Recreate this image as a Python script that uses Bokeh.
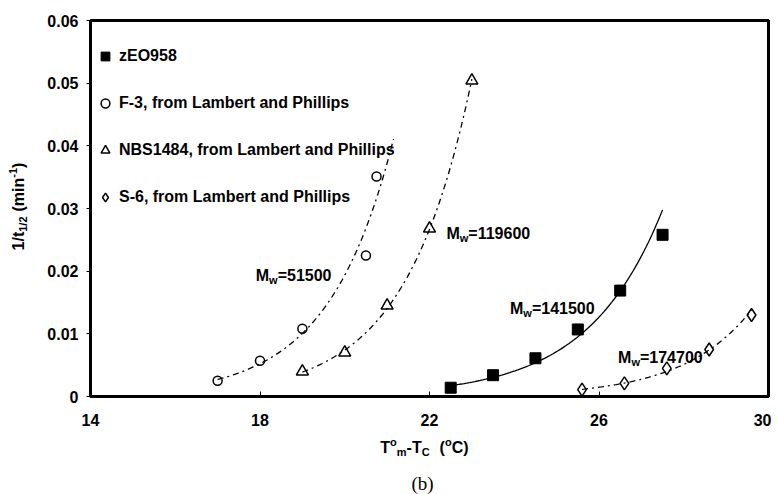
import numpy as np
from bokeh.plotting import figure
from bokeh.layouts import row, column
from bokeh.models import Range1d, FixedTicker, Label, Legend, LegendItem
from bokeh.embed import file_html
from bokeh.resources import INLINE

# ---------------- data ----------------
zeo_x = [22.5, 23.5, 24.5, 25.5, 26.5, 27.5]
zeo_y = [0.0014, 0.0034, 0.0061, 0.0107, 0.0169, 0.0258]

f3_x = [17.0, 18.0, 19.0, 20.5, 20.75]
f3_y = [0.0025, 0.0057, 0.0108, 0.0225, 0.0351]

nbs_x = [19.0, 20.0, 21.0, 22.0, 23.0]
nbs_y = [0.0040, 0.0070, 0.0145, 0.0268, 0.0504]

s6_x = [25.6, 26.6, 27.6, 28.6, 29.6]
s6_y = [0.0011, 0.0021, 0.0045, 0.0075, 0.0130]

series_names = ["zEO958", "F-3, from Lambert and Phillips",
                "NBS1484, from Lambert and Phillips", "S-6, from Lambert and Phillips"]
# extent of each exponential trendline (x from, x to)
fit_ranges = [(22.5, 27.5), (17.0, 21.15), (19.0, 23.0), (25.6, 29.6)]

mw_labels = ["51500", "119600", "141500", "174700"]
mw_x = [17.9, 22.4, 23.9, 26.45]
mw_y = [0.0193, 0.0260, 0.0140, 0.0062]

x_ticks = [14, 18, 22, 26, 30]
y_ticks = [0, 0.01, 0.02, 0.03, 0.04, 0.05, 0.06]
y_tick_labels = ["0", "0.01", "0.02", "0.03", "0.04", "0.05", "0.06"]

FONT = "Liberation Sans"
# Helvetica-Bold advance widths (per 1000 em)
W = {' ': 278, '(': 333, ')': 333, '-': 333, '/': 278, '=': 584, '.': 278, ',': 278,
     'M': 833, 'w': 778, 'T': 611, 'o': 611, 'm': 889, 'C': 722, 't': 333, 'i': 278, 'n': 611}
for d in "0123456789":
    W[d] = 556


def tw(s, size):
    return sum(W.get(c, 600) for c in s) * size / 1000.0


def piece(fig, x, y, text, size, xo, yo, angle=0.0):
    fig.add_layout(Label(x=x, y=y, text=text, x_offset=xo, y_offset=yo, angle=angle,
                         text_font=FONT, text_font_style="bold", text_font_size=f"{size}px",
                         text_color="black", text_align="left", text_baseline="alphabetic"))


# ================= main plot =================
p = figure(output_backend="svg", toolbar_location=None,
           frame_width=678, frame_height=376,
           min_border_left=50, min_border_right=3, min_border_top=20, min_border_bottom=40,
           x_range=Range1d(14, 30), y_range=Range1d(0, 0.06))
p.background_fill_color = "white"
p.border_fill_color = "white"
p.outline_line_color = "black"
p.outline_line_width = 3
p.grid.visible = False

for ax in (p.xaxis[0], p.yaxis[0]):
    ax.axis_line_width = 3
    ax.axis_line_color = "black"
    ax.major_tick_line_color = "black"
    ax.major_tick_line_width = 1
    ax.minor_tick_line_color = None
    ax.major_label_text_font = FONT
    ax.major_label_text_font_style = "bold"
    ax.major_label_text_font_size = "16px"
    ax.major_label_text_color = "black"

p.xaxis.ticker = FixedTicker(ticks=x_ticks)
p.xaxis.major_tick_in = 5
p.xaxis.major_tick_out = 0
p.xaxis.major_label_standoff = 17

p.yaxis.ticker = FixedTicker(ticks=y_ticks)
p.yaxis.major_label_overrides = {t: l for t, l in zip(y_ticks, y_tick_labels)}
p.yaxis.major_tick_in = 0
p.yaxis.major_tick_out = 4
p.yaxis.major_label_standoff = 8

# trendlines (Excel-style exponential fits of each series)
all_x = [zeo_x, f3_x, nbs_x, s6_x]
all_y = [zeo_y, f3_y, nbs_y, s6_y]
dashes = ["solid", "6 4 2 4", "6 4 2 4", "6 4 2 4"]
for xs, ys, (a, b), dsh in zip(all_x, all_y, fit_ranges, dashes):
    k, c = np.polyfit(np.array(xs), np.log(np.array(ys)), 1)
    xx = np.linspace(a, b, 80)
    p.line(xx, np.exp(c + k * xx), line_color="black", line_width=1.3, line_dash=dsh)

# markers
r_zeo = p.scatter(zeo_x, zeo_y, marker="square", size=11, fill_color="black", line_color="black")
r_f3 = p.scatter(f3_x, f3_y, marker="circle", size=9, fill_alpha=0, line_color="black", line_width=1.5)
r_nbs = p.scatter(nbs_x, nbs_y, marker="triangle", size=12, fill_alpha=0, line_color="black", line_width=1.5)
r_s6 = p.scatter(s6_x, s6_y, marker="diamond", size=13, fill_alpha=0, line_color="black", line_width=1.5)

legend = Legend(items=[LegendItem(label=n, renderers=[r]) for n, r in
                       zip(series_names, [r_zeo, r_f3, r_nbs, r_s6])],
                location=(4, 188), padding=0, margin=0, spacing=25,
                glyph_width=22, glyph_height=22, label_height=22, label_standoff=3,
                border_line_color=None, background_fill_alpha=0,
                label_text_font=FONT, label_text_font_style="bold",
                label_text_font_size="16px", label_text_color="black")
p.add_layout(legend)

# Mw annotations
for lab, x, y in zip(mw_labels, mw_x, mw_y):
    piece(p, x, y, "M", 16, 0, 0)
    off = tw("M", 16)
    piece(p, x, y, "w", 11, off, -4)
    off += tw("w", 11)
    piece(p, x, y, "=" + lab, 16, off, 0)

P_W = 50 + 678 + 3
P_H = 20 + 376 + 40

# ================= x-axis title + caption strip =================
XH = 58
xf = figure(output_backend="svg", toolbar_location=None, width=P_W, height=XH,
            x_range=Range1d(0, P_W), y_range=Range1d(0, XH), min_border=0,
            x_axis_location=None, y_axis_location=None)
xf.outline_line_color = None
xf.grid.visible = False

# (text, font size, vertical shift, gap before)
xt = [("T", 16, 0, 0), ("o", 11, 6, 0), ("m", 11, -4, 0), ("-T", 16, 0, 0), ("C", 11, -4, 0),
      ("(", 16, 0, 10), ("o", 11, 6, 0), ("C)", 16, 0, 0)]
total = sum(tw(t, s) + g for t, s, _, g in xt)
off = -total / 2
for t, s, dy, g in xt:
    off += g
    piece(xf, 360, 47, t, s, off, dy)
    off += tw(t, s)

xf.add_layout(Label(x=358, y=11, text="(b)", text_font="Liberation Serif",
                    text_font_size="19px", text_color="black",
                    text_align="center", text_baseline="alphabetic"))

# ================= y-axis title strip =================
YW = 40
yf = figure(output_backend="svg", toolbar_location=None, width=YW, height=P_H,
            x_range=Range1d(0, YW), y_range=Range1d(0, P_H), min_border=0,
            x_axis_location=None, y_axis_location=None)
yf.outline_line_color = None
yf.grid.visible = False

yt = [("1/t", 16, 0, 0), ("1/2", 11, 4, 0), ("(min", 16, 0, 5), ("-1", 11, -6, 0), (")", 16, 0, 0)]
total = sum(tw(t, s) + g for t, s, _, g in yt)
off = -total / 2
for t, s, dx, g in yt:
    off += g
    piece(yf, 18, 230, t, s, dx, off, angle=np.pi / 2)
    off += tw(t, s)

layout = row(yf, column(p, xf))
open("out.html", "w").write(file_html(layout, INLINE))
